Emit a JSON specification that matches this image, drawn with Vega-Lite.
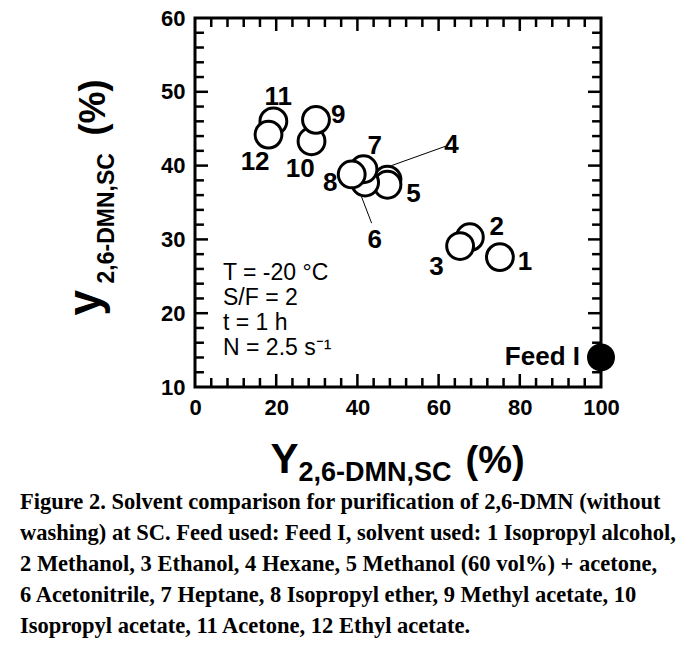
{
  "$schema": "https://vega.github.io/schema/vega-lite/v6.json",
  "width": 406,
  "height": 369,
  "autosize": {"type": "none"},
  "padding": {"left": 195, "top": 18, "right": 99, "bottom": 264},
  "background": "white",
  "config": {
    "view": {"stroke": "black", "strokeWidth": 3},
    "font": "Liberation Sans"
  },
  "title": {
    "text": [
      "Figure 2. Solvent comparison for purification of 2,6-DMN (without",
      "washing) at SC. Feed used: Feed I, solvent used: 1 Isopropyl alcohol,",
      "2 Methanol, 3 Ethanol, 4 Hexane, 5 Methanol (60 vol%) + acetone,",
      "6 Acetonitrile, 7 Heptane, 8 Isopropyl ether, 9 Methyl acetate, 10",
      "Isopropyl acetate, 11 Acetone, 12 Ethyl acetate."
    ],
    "orient": "bottom",
    "anchor": "start",
    "frame": "group",
    "dx": -175,
    "offset": 6,
    "font": "Liberation Serif",
    "fontSize": 22.5,
    "fontWeight": "bold",
    "lineHeight": 31,
    "color": "black"
  },
  "datasets": {
    "points": [
      {"id": "1", "Y": 75.1, "y": 27.6},
      {"id": "2", "Y": 67.7, "y": 30.3},
      {"id": "3", "Y": 65.3, "y": 29.1},
      {"id": "4", "Y": 47.4, "y": 38.1},
      {"id": "5", "Y": 47.4, "y": 37.4},
      {"id": "6", "Y": 41.9, "y": 37.7},
      {"id": "7", "Y": 41.5, "y": 39.5},
      {"id": "8", "Y": 38.6, "y": 38.8},
      {"id": "9", "Y": 29.8, "y": 46.2},
      {"id": "10", "Y": 28.7, "y": 43.3},
      {"id": "11", "Y": 19.3, "y": 46.0},
      {"id": "12", "Y": 18.1, "y": 44.2}
    ],
    "feed": [{"id": "Feed I", "Y": 100, "y": 14.0}],
    "labels": [
      {"t": "1", "Y": 81.3, "y": 27.0},
      {"t": "2", "Y": 74.3, "y": 31.7},
      {"t": "3", "Y": 59.5, "y": 26.3},
      {"t": "4", "Y": 63.2, "y": 42.8},
      {"t": "5", "Y": 53.8, "y": 36.2},
      {"t": "6", "Y": 44.3, "y": 29.9},
      {"t": "7", "Y": 44.3, "y": 42.6},
      {"t": "8", "Y": 33.3, "y": 37.6},
      {"t": "9", "Y": 35.3, "y": 46.9},
      {"t": "10", "Y": 25.9, "y": 39.6},
      {"t": "11", "Y": 20.5, "y": 49.3},
      {"t": "12", "Y": 14.8, "y": 40.5}
    ],
    "leaders": [
      {"id": "4", "Y": 61.6, "y": 42.6, "Y2": 48.4, "y2": 40.0},
      {"id": "6", "Y": 41.0, "y": 35.8, "Y2": 43.5, "y2": 32.2}
    ],
    "notes": [
      {"t": "T = -20 °C", "Y": 6.9, "y": 24.5},
      {"t": "S/F = 2", "Y": 6.9, "y": 21.1},
      {"t": "t = 1 h", "Y": 6.9, "y": 17.7},
      {"t": "N = 2.5 s⁻¹", "Y": 6.9, "y": 14.3}
    ],
    "xticks": [
      {"v": 4, "major": false}, {"v": 8, "major": false}, {"v": 12, "major": false}, {"v": 16, "major": false}, {"v": 20, "major": true},
      {"v": 24, "major": false}, {"v": 28, "major": false}, {"v": 32, "major": false}, {"v": 36, "major": false}, {"v": 40, "major": true},
      {"v": 44, "major": false}, {"v": 48, "major": false}, {"v": 52, "major": false}, {"v": 56, "major": false}, {"v": 60, "major": true},
      {"v": 64, "major": false}, {"v": 68, "major": false}, {"v": 72, "major": false}, {"v": 76, "major": false}, {"v": 80, "major": true},
      {"v": 84, "major": false}, {"v": 88, "major": false}, {"v": 92, "major": false}, {"v": 96, "major": false}
    ],
    "yticks": [
      {"v": 12, "major": false}, {"v": 14, "major": false}, {"v": 16, "major": false}, {"v": 18, "major": false}, {"v": 20, "major": true},
      {"v": 22, "major": false}, {"v": 24, "major": false}, {"v": 26, "major": false}, {"v": 28, "major": false}, {"v": 30, "major": true},
      {"v": 32, "major": false}, {"v": 34, "major": false}, {"v": 36, "major": false}, {"v": 38, "major": false}, {"v": 40, "major": true},
      {"v": 42, "major": false}, {"v": 44, "major": false}, {"v": 46, "major": false}, {"v": 48, "major": false}, {"v": 50, "major": true},
      {"v": 52, "major": false}, {"v": 54, "major": false}, {"v": 56, "major": false}, {"v": 58, "major": false}
    ]
  },
  "layer": [
    {
      "data": {"name": "leaders"},
      "mark": {"type": "rule", "color": "black", "strokeWidth": 1},
      "encoding": {
        "x": {"field": "Y", "type": "quantitative", "scale": {"domain": [0, 100], "nice": false, "zero": false},
          "axis": {"orient": "bottom", "values": [0, 20, 40, 60, 80, 100], "ticks": false, "domain": false, "grid": false, "labelFont": "Liberation Sans", "labelFontWeight": "bold", "labelFontSize": 22, "labelColor": "black", "labelPadding": 10, "labelFlush": false, "labelOverlap": false,
            "title": "Y", "titleFont": "Liberation Sans", "titleFontWeight": "bold", "titleFontSize": 42, "titleColor": "black", "titleX": 75, "titleY": 85, "titleAlign": "left", "titleBaseline": "alphabetic"}},
        "y": {"field": "y", "type": "quantitative", "scale": {"domain": [10, 60], "nice": false, "zero": false},
          "axis": {"orient": "left", "values": [10, 20, 30, 40, 50, 60], "ticks": false, "domain": false, "grid": false, "labelFont": "Liberation Sans", "labelFontWeight": "bold", "labelFontSize": 22, "labelColor": "black", "labelPadding": 10, "labelFlush": false, "labelOverlap": false,
            "title": "y", "titleFont": "Liberation Sans", "titleFontWeight": "bold", "titleFontSize": 46, "titleColor": "black", "titleX": -96, "titleY": 297, "titleAngle": 270, "titleAlign": "left", "titleBaseline": "alphabetic"}},
        "x2": {"field": "Y2"},
        "y2": {"field": "y2"}
      }
    },
    {
      "data": {"name": "xticks"},
      "transform": [{"filter": "datum.major"}],
      "mark": {"type": "rule", "color": "black", "strokeWidth": 2.5},
      "encoding": {
        "x": {"field": "v", "type": "quantitative",
          "axis": {"orient": "bottom", "ticks": false, "labels": false, "domain": false, "grid": false,
            "title": "2,6-DMN,SC", "titleFont": "Liberation Sans", "titleFontWeight": "bold", "titleFontSize": 27, "titleColor": "black", "titleX": 103, "titleY": 93, "titleAlign": "left", "titleBaseline": "alphabetic"}},
        "y": {"datum": 10, "type": "quantitative",
          "axis": {"orient": "left", "ticks": false, "labels": false, "domain": false, "grid": false,
            "title": "2,6-DMN,SC", "titleFont": "Liberation Sans", "titleFontWeight": "bold", "titleFontSize": 23, "titleColor": "black", "titleX": -82, "titleY": 265, "titleAngle": 270, "titleAlign": "left", "titleBaseline": "alphabetic"}},
        "y2": {"datum": 11.76}
      }
    },
    {
      "data": {"name": "xticks"},
      "transform": [{"filter": "!datum.major"}],
      "mark": {"type": "rule", "color": "black", "strokeWidth": 2.5},
      "encoding": {
        "x": {"field": "v", "type": "quantitative",
          "axis": {"orient": "bottom", "ticks": false, "labels": false, "domain": false, "grid": false,
            "title": "(%)", "titleFont": "Liberation Sans", "titleFontWeight": "bold", "titleFontSize": 38, "titleColor": "black", "titleX": 270, "titleY": 85, "titleAlign": "left", "titleBaseline": "alphabetic"}},
        "y": {"datum": 10, "type": "quantitative",
          "axis": {"orient": "left", "ticks": false, "labels": false, "domain": false, "grid": false,
            "title": "(%)", "titleFont": "Liberation Sans", "titleFontWeight": "bold", "titleFontSize": 36, "titleColor": "black", "titleX": -91, "titleY": 117, "titleAngle": 270, "titleAlign": "left", "titleBaseline": "alphabetic"}},
        "y2": {"datum": 11.22}
      }
    },
    {
      "data": {"name": "xticks"},
      "transform": [{"filter": "datum.major"}],
      "mark": {"type": "rule", "color": "black", "strokeWidth": 2.5},
      "encoding": {
        "x": {"field": "v", "type": "quantitative", "axis": null},
        "y": {"datum": 60, "type": "quantitative", "axis": null},
        "y2": {"datum": 58.24}
      }
    },
    {
      "data": {"name": "xticks"},
      "transform": [{"filter": "!datum.major"}],
      "mark": {"type": "rule", "color": "black", "strokeWidth": 2.5},
      "encoding": {
        "x": {"field": "v", "type": "quantitative", "axis": null},
        "y": {"datum": 60, "type": "quantitative", "axis": null},
        "y2": {"datum": 58.78}
      }
    },
    {
      "data": {"name": "yticks"},
      "transform": [{"filter": "datum.major"}],
      "mark": {"type": "rule", "color": "black", "strokeWidth": 2.5},
      "encoding": {
        "y": {"field": "v", "type": "quantitative", "axis": null},
        "x": {"datum": 0, "type": "quantitative", "axis": null},
        "x2": {"datum": 3.2}
      }
    },
    {
      "data": {"name": "yticks"},
      "transform": [{"filter": "!datum.major"}],
      "mark": {"type": "rule", "color": "black", "strokeWidth": 2.5},
      "encoding": {
        "y": {"field": "v", "type": "quantitative", "axis": null},
        "x": {"datum": 0, "type": "quantitative", "axis": null},
        "x2": {"datum": 2.2}
      }
    },
    {
      "data": {"name": "yticks"},
      "transform": [{"filter": "datum.major"}],
      "mark": {"type": "rule", "color": "black", "strokeWidth": 2.5},
      "encoding": {
        "y": {"field": "v", "type": "quantitative", "axis": null},
        "x": {"datum": 100, "type": "quantitative", "axis": null},
        "x2": {"datum": 96.8}
      }
    },
    {
      "data": {"name": "yticks"},
      "transform": [{"filter": "!datum.major"}],
      "mark": {"type": "rule", "color": "black", "strokeWidth": 2.5},
      "encoding": {
        "y": {"field": "v", "type": "quantitative", "axis": null},
        "x": {"datum": 100, "type": "quantitative", "axis": null},
        "x2": {"datum": 97.8}
      }
    },
    {
      "data": {"name": "points"},
      "mark": {"type": "point", "shape": "circle", "filled": false, "fill": "white", "fillOpacity": 1, "stroke": "black", "strokeWidth": 3, "size": 720, "opacity": 1},
      "encoding": {
        "x": {"field": "Y", "type": "quantitative", "axis": null},
        "y": {"field": "y", "type": "quantitative", "axis": null},
        "order": {"field": "id", "type": "quantitative"}
      }
    },
    {
      "data": {"name": "feed"},
      "mark": {"type": "point", "shape": "circle", "filled": true, "color": "black", "size": 780, "opacity": 1},
      "encoding": {
        "x": {"field": "Y", "type": "quantitative", "axis": null},
        "y": {"field": "y", "type": "quantitative", "axis": null}
      }
    },
    {
      "data": {"name": "labels"},
      "mark": {"type": "text", "font": "Liberation Sans", "fontWeight": "bold", "fontSize": 26, "align": "center", "baseline": "middle", "color": "black"},
      "encoding": {
        "x": {"field": "Y", "type": "quantitative", "axis": null},
        "y": {"field": "y", "type": "quantitative", "axis": null},
        "text": {"field": "t"}
      }
    },
    {
      "data": {"name": "feed"},
      "mark": {"type": "text", "font": "Liberation Sans", "fontWeight": "bold", "fontSize": 26, "align": "right", "baseline": "middle", "dx": -21, "color": "black"},
      "encoding": {
        "x": {"field": "Y", "type": "quantitative", "axis": null},
        "y": {"field": "y", "type": "quantitative", "axis": null},
        "text": {"field": "id"}
      }
    },
    {
      "data": {"name": "notes"},
      "mark": {"type": "text", "font": "Liberation Sans", "fontSize": 23, "align": "left", "baseline": "alphabetic", "color": "black"},
      "encoding": {
        "x": {"field": "Y", "type": "quantitative", "axis": null},
        "y": {"field": "y", "type": "quantitative", "axis": null},
        "text": {"field": "t"}
      }
    }
  ],
  "resolve": {"axis": {"x": "independent", "y": "independent"}}
}
